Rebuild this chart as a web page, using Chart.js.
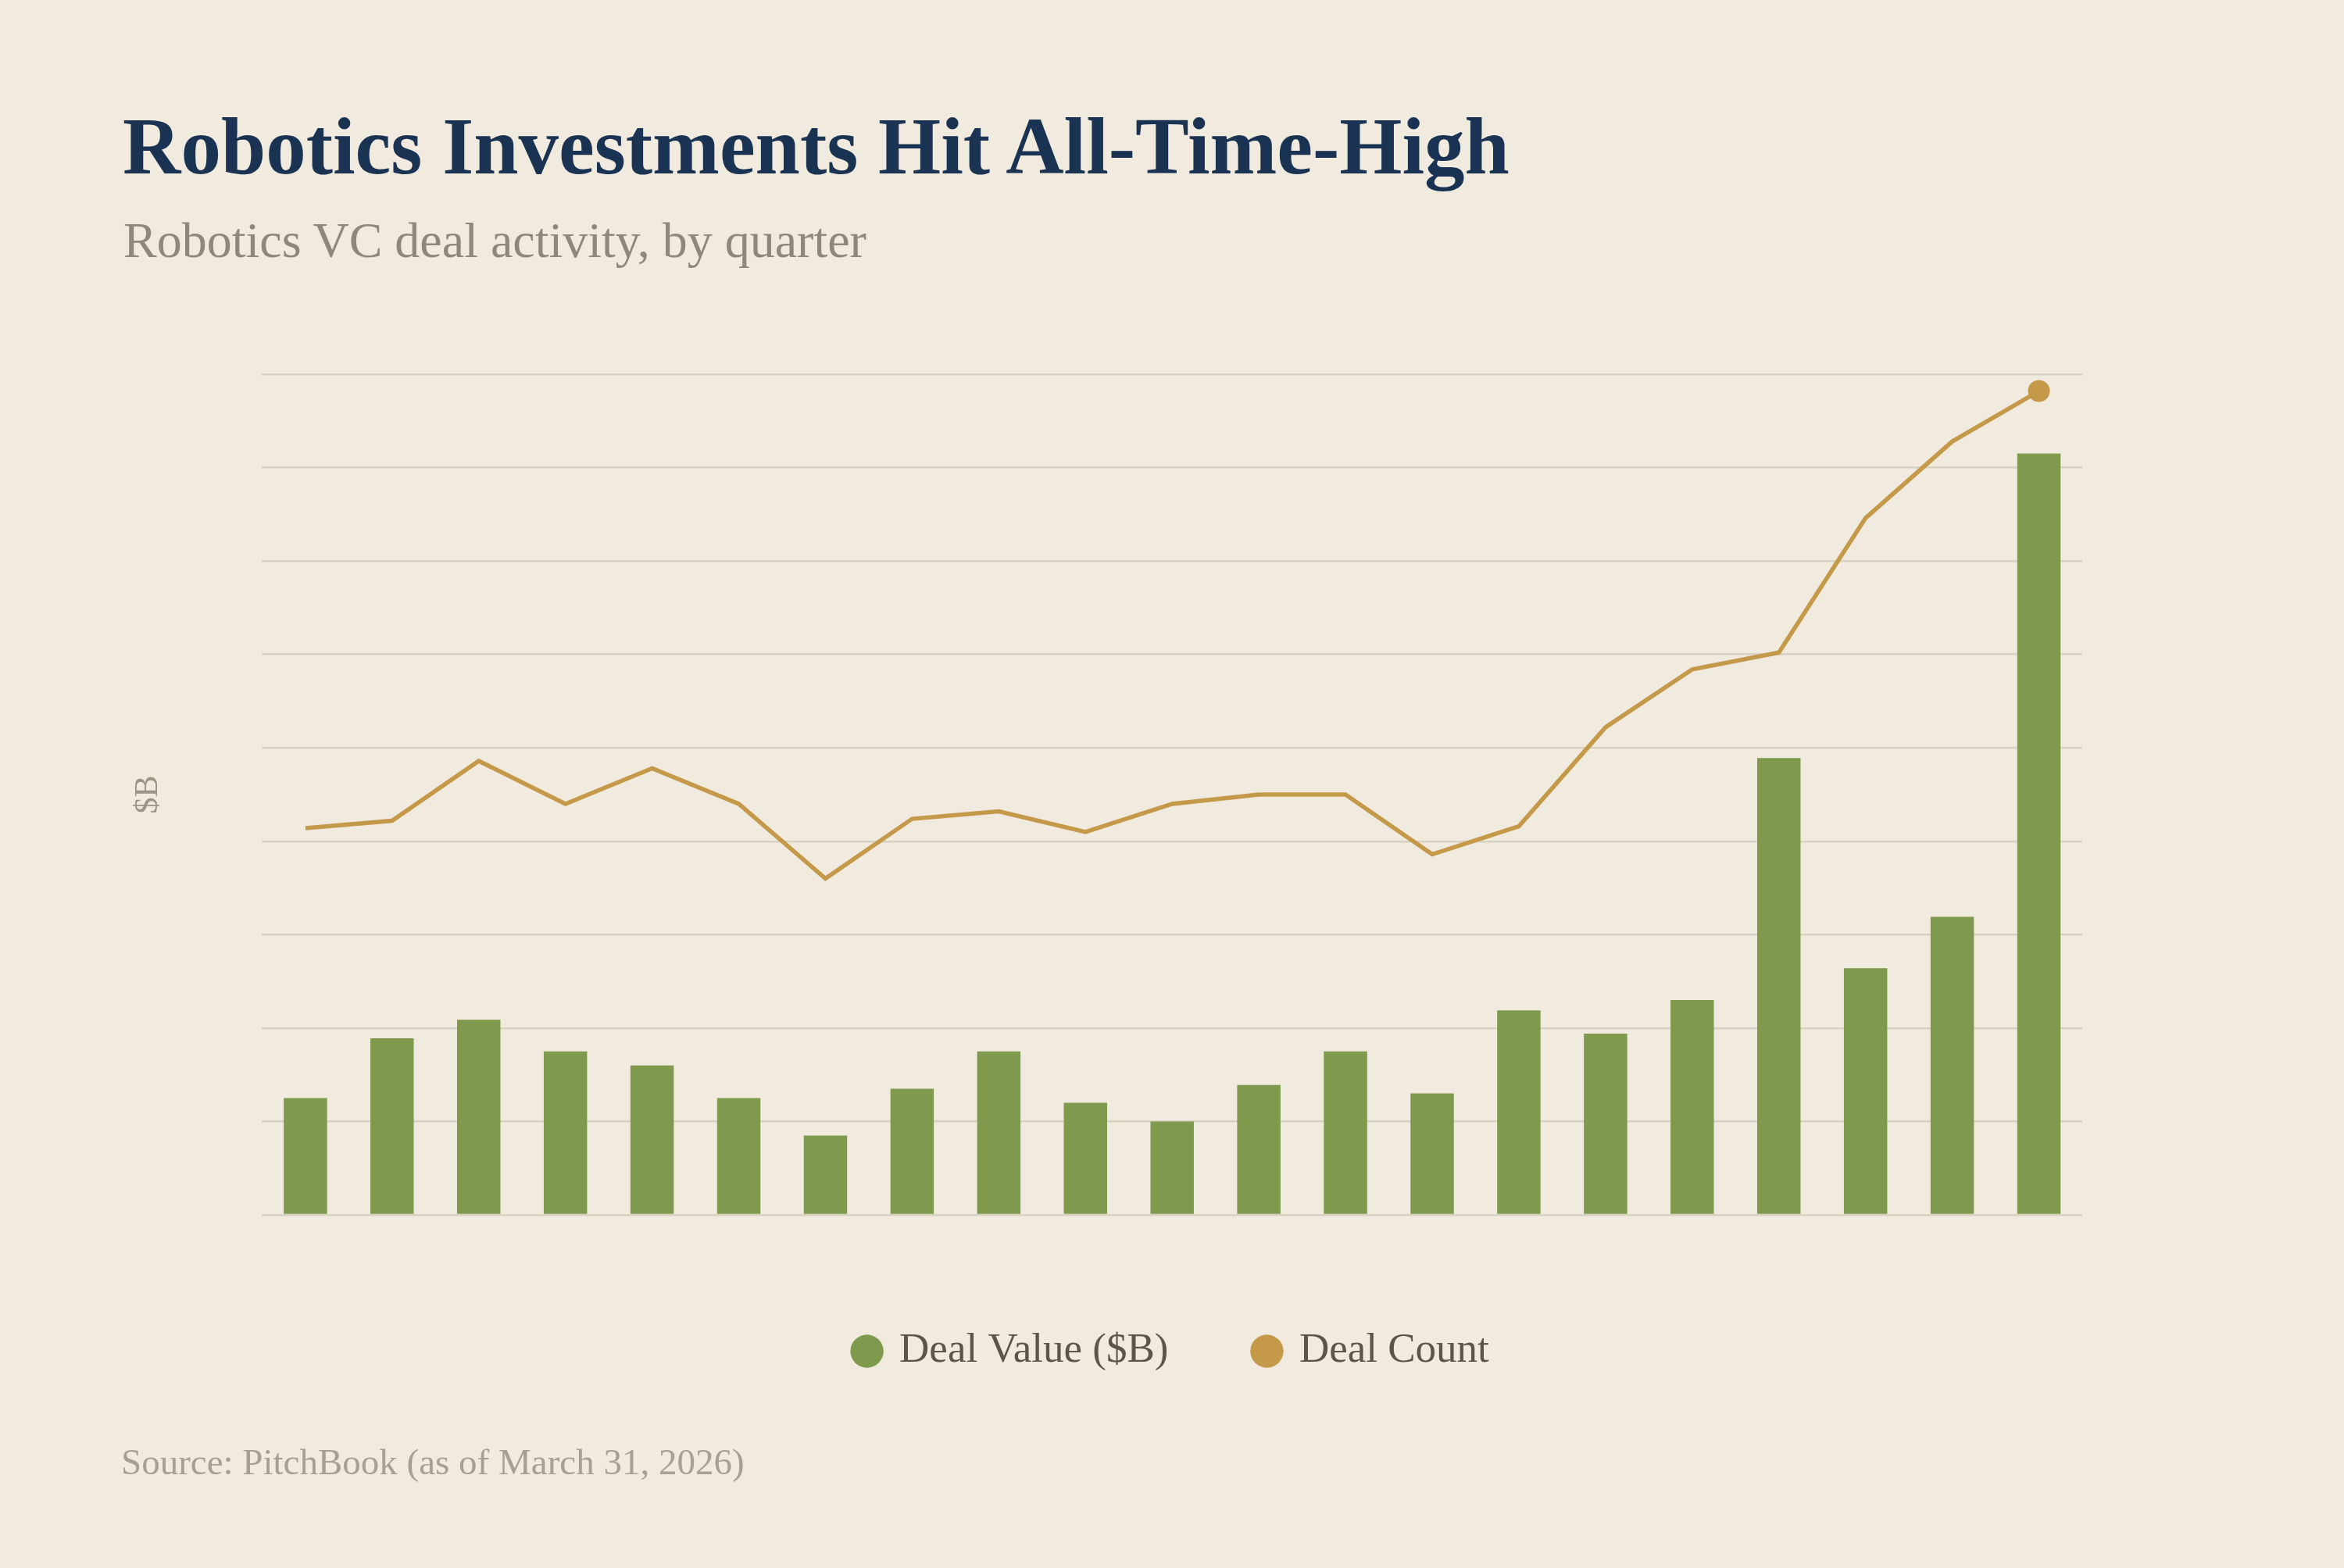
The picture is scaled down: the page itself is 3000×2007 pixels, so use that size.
<!DOCTYPE html>
<html lang="en">
<head>
    <meta charset="UTF-8">
    <title>Robotics Investments Hit All-Time-High</title>
    <script src="https://cdn.jsdelivr.net/npm/chart.js"></script>
    <style>
        body {
            margin: 0;
            background-color: #f1ebdf;
            width: 3000px;
            height: 2007px;
            overflow: hidden;
            position: relative;
            font-family: 'Liberation Serif', serif;
        }

        .title, .subtitle, .source {
            position: absolute;
            margin: 0;
            line-height: 1;
            white-space: nowrap;
        }

        .title {
            left: 157px;
            top: 136px;
            font-size: 103px;
            font-weight: bold;
            color: #1b3352;
        }

        .subtitle {
            left: 158px;
            top: 276px;
            font-size: 64px;
            color: #8f8779;
        }

        .source {
            left: 155px;
            top: 1848px;
            font-size: 47px;
            color: #a69f92;
        }

        .chart-wrap {
            position: absolute;
            left: 0;
            top: 0;
            width: 3000px;
            height: 2007px;
        }
    </style>
</head>
<body>

<h1 class="title">Robotics Investments Hit All-Time-High</h1>
<p class="subtitle">Robotics VC deal activity, by quarter</p>

<div class="chart-wrap">
    <canvas id="dealChart"></canvas>
</div>

<p class="source">Source: PitchBook (as of March 31, 2026)</p>

<script>
    // quarters Q1 2021 .. Q1 2026
    const quarters = [
        'Q1 2021', 'Q2 2021', 'Q3 2021', 'Q4 2021',
        'Q1 2022', 'Q2 2022', 'Q3 2022', 'Q4 2022',
        'Q1 2023', 'Q2 2023', 'Q3 2023', 'Q4 2023',
        'Q1 2024', 'Q2 2024', 'Q3 2024', 'Q4 2024',
        'Q1 2025', 'Q2 2025', 'Q3 2025', 'Q4 2025',
        'Q1 2026'
    ];

    // deal value in $B (bars)
    const dealValue = [1.25, 1.89, 2.09, 1.75, 1.60, 1.25, 0.85, 1.35, 1.75, 1.20, 1.00,
                       1.39, 1.75, 1.30, 2.19, 1.94, 2.30, 4.89, 2.64, 3.19, 8.15];

    // number of deals (line, hidden right axis)
    const dealCount = [207, 211, 243, 220, 239, 220, 180, 212, 216, 205, 220,
                       225, 225, 193, 208, 261, 292, 301, 373, 414, 441];

    const seriesNames = ['Deal Value ($B)', 'Deal Count'];

    const green = '#7f9a4c';
    const gold = '#c49a4a';

    function createDealChart() {
        const ctx = document.getElementById('dealChart').getContext('2d');
        const lastIndex = dealCount.length - 1;

        new Chart(ctx, {
            type: 'bar',
            data: {
                labels: quarters,
                datasets: [
                    {
                        type: 'bar',
                        label: seriesNames[0],
                        data: dealValue,
                        backgroundColor: green,
                        borderWidth: 0,
                        barPercentage: 0.5,
                        categoryPercentage: 1,
                        yAxisID: 'y',
                        order: 2
                    },
                    {
                        type: 'line',
                        label: seriesNames[1],
                        data: dealCount,
                        borderColor: gold,
                        backgroundColor: gold,
                        borderWidth: 5.5,
                        tension: 0,
                        fill: false,
                        pointRadius: c => c.dataIndex === lastIndex ? 14 : 0,
                        pointHoverRadius: 0,
                        pointBorderWidth: 0,
                        yAxisID: 'y1',
                        order: 1
                    }
                ]
            },
            options: {
                responsive: true,
                maintainAspectRatio: false,
                animation: false,
                layout: {
                    padding: { top: 479, left: 150, right: 335, bottom: 241 }
                },
                scales: {
                    x: {
                        display: true,
                        offset: true,
                        ticks: { display: false },
                        grid: { display: false },
                        border: { display: false },
                        afterFit: s => { s.height = 37; }
                    },
                    y: {
                        position: 'left',
                        min: 0,
                        max: 9,
                        ticks: { display: false, stepSize: 1 },
                        grid: { color: '#d8d2c2', lineWidth: 2.5, drawTicks: false },
                        border: { display: false },
                        title: {
                            display: true,
                            text: '$B',
                            color: '#9b9384',
                            font: { family: 'Liberation Serif', size: 42 },
                            padding: { top: 15, bottom: 120 }
                        }
                    },
                    y1: {
                        display: false,
                        min: 0,
                        max: 450
                    }
                },
                plugins: {
                    tooltip: { enabled: false },
                    legend: {
                        display: true,
                        position: 'bottom',
                        fullSize: false,
                        labels: {
                            usePointStyle: true,
                            pointStyle: 'circle',
                            boxWidth: 30,
                            boxHeight: 30,
                            padding: 111,
                            color: '#5b564b',
                            font: { family: 'Liberation Serif', size: 53 },
                            sort: (a, b) => a.datasetIndex - b.datasetIndex,
                            generateLabels: chart => {
                                const items = Chart.defaults.plugins.legend.labels.generateLabels(chart);
                                items.forEach(it => { it.lineWidth = 0; });
                                return items;
                            }
                        }
                    }
                }
            }
        });
    }

    window.onload = function() {
        createDealChart();
    };
</script>

</body>
</html>
